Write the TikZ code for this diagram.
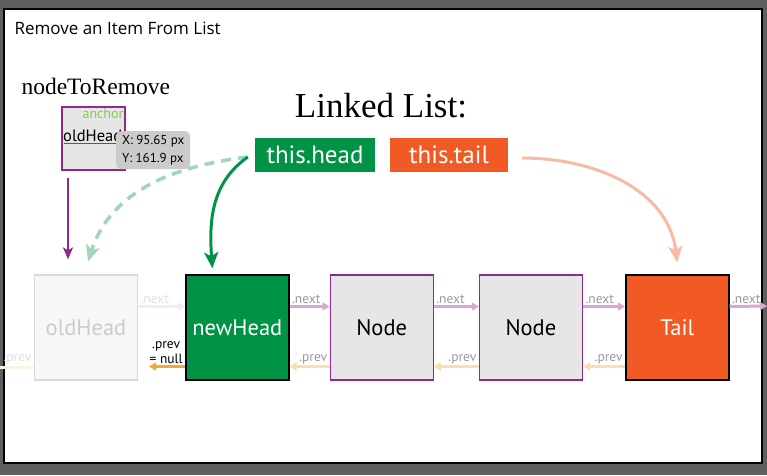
\documentclass[tikz,border=0pt]{standalone}
\usepackage{fontspec}
\setmainfont{Liberation Serif}
\newfontfamily\labelfont{PT Sans}
\newfontfamily\uifont{Open Sans}
\definecolor{framegray}{HTML}{5F5F5F}
\definecolor{listgreen}{HTML}{009245}
\definecolor{listorange}{HTML}{F15A24}
\definecolor{nodepurple}{HTML}{92278F}
\definecolor{nodegray}{HTML}{E6E6E6}
\definecolor{nextpurple}{HTML}{D9A7D5}
\definecolor{prevorange}{HTML}{FDDCB0}
\definecolor{nullorange}{HTML}{F7A833}
\definecolor{dashgreen}{HTML}{9ED7B9}
\definecolor{salmon}{HTML}{F7BBA4}
\definecolor{labelgray}{HTML}{9A9A9A}
\definecolor{anchorgreen}{HTML}{7ED34B}
\definecolor{tipgray}{HTML}{CBCBCB}
\usetikzlibrary{arrows.meta, positioning}

\begin{document}
\begin{tikzpicture}[x=1pt, y=-1pt,
    listnode/.style={rectangle, minimum width=103pt, minimum height=105pt,
                     inner sep=0pt, font=\labelfont\fontsize{22.5}{26}\selectfont},
    plainnode/.style={listnode, draw=nodepurple, fill=nodegray, line width=1.2pt},
    ptr/.style={rectangle, minimum height=34pt, inner sep=0pt, text=white,
                font=\labelfont\fontsize{25}{28}\selectfont},
    nextarr/.style={-{Triangle[length=7pt,width=8pt]}, line width=3pt, draw=nextpurple},
    prevarr/.style={-{Triangle[length=7pt,width=8pt]}, line width=3pt, draw=prevorange},
    lbl/.style={font=\labelfont\fontsize{13.5}{14}\selectfont, text=labelgray, inner sep=1pt},
    bigarr/.style={-{Stealth[length=16pt,width=14pt,inset=4pt]}, line width=3pt}
  ]
  \useasboundingbox (0,0) rectangle (767,475);
  \fill[framegray] (0,0) rectangle (767,475);
  \draw[fill=white, line width=1.5pt] (4,9) rectangle (762,463);

  % header texts
  \node[anchor=west, font=\uifont\fontsize{17}{19}\selectfont] (title) at (11,28)
    {Remove an Item From List};
  \node[anchor=west, font=\fontsize{23.5}{26}\selectfont] (removeLabel) at (18,86)
    {nodeToRemove};
  \node[font=\fontsize{35}{38}\selectfont] (listTitle) at (381,106) {Linked List:};

  % node to remove, with the anchor and tooltip
  \node[rectangle, draw=nodepurple, fill=nodegray, line width=1.2pt,
        minimum width=63pt, minimum height=63pt] (remove) at (93.5,138.5) {};
  \node[anchor=north east, text=anchorgreen, inner sep=2pt,
        font=\labelfont\fontsize{14}{15}\selectfont] (anchorText) at (remove.north east) {anchor};
  \node[anchor=base west, inner sep=0pt,
        font=\labelfont\fontsize{16.5}{18}\selectfont] (removeText) at (63,141) {oldHead};
  \draw[teal, line width=0.8pt] (64,143.5) -- (120,143.5);
  \node[anchor=north west, fill=tipgray, rounded corners=5pt, align=left,
        minimum width=74pt, minimum height=38pt, inner sep=0pt,
        font=\labelfont\fontsize{13}{18}\selectfont] (tooltip) at (116,131)
    {X: 95.65 px\\Y: 161.9 px};

  % pointers
  \node[ptr, fill=listgreen, minimum width=120pt] (thisHead) at (315,155) {this.head};
  \node[ptr, fill=listorange, minimum width=118pt] (thisTail) at (449,155) {this.tail};

  % the list
  \node[listnode, draw=black!15, fill=black!3, text=black!20, line width=1.2pt]
    (oldHead) at (86,327.5) {oldHead};
  \node[listnode, right=47pt of oldHead, fill=listgreen, draw=black, line width=1.5pt,
        text=white] (newHead) {newHead};
  \node[plainnode, right=40pt of newHead] (nodeA) {Node};
  \node[plainnode, right=45pt of nodeA] (nodeB) {Node};
  \node[listnode, right=42pt of nodeB, fill=listorange, draw=black, line width=1.5pt,
        text=white] (tailNode) {Tail};
  \coordinate (rightEnd) at (767,306);
  \coordinate (leftEnd) at (0,367);

  % next links
  \draw[nextarr, draw=nextpurple!25] ([yshift=21pt]oldHead.east) -- ([yshift=21pt]newHead.west)
    node[lbl, pos=0, anchor=south west, text=black!12] {.next};
  \draw[nextarr] ([yshift=21pt]newHead.east) -- ([yshift=21pt]nodeA.west)
    node[lbl, pos=0, anchor=south west] {.next};
  \draw[nextarr] ([yshift=21pt]nodeA.east) -- ([yshift=21pt]nodeB.west)
    node[lbl, pos=0, anchor=south west] {.next};
  \draw[nextarr] ([yshift=21pt]nodeB.east) -- ([yshift=21pt]tailNode.west)
    node[lbl, pos=0, anchor=south west] {.next};
  \draw[nextarr] ([yshift=21pt]tailNode.east) -- (rightEnd)
    node[lbl, pos=0, anchor=south west] {.next};

  % prev links
  \draw[prevarr, draw=prevorange!35, -] (oldHead.west |- leftEnd) -- (leftEnd)
    node[lbl, pos=0, anchor=south east, text=black!12] {.prev};
  \draw[prevarr, draw=nullorange] ([yshift=-39pt]newHead.west) -- ([yshift=-39pt, xshift=-36pt]newHead.west)
    node[lbl, pos=0, anchor=south east, text=black, align=center,
         font=\labelfont\fontsize{13.5}{15}\selectfont] {.prev\\= null};
  \draw[prevarr] ([yshift=-39pt]nodeA.west) -- ([yshift=-39pt]newHead.east)
    node[lbl, pos=0, anchor=south east] {.prev};
  \draw[prevarr] ([yshift=-39pt]nodeB.west) -- ([yshift=-39pt]nodeA.east)
    node[lbl, pos=0, anchor=south east] {.prev};
  \draw[prevarr] ([yshift=-39pt]tailNode.west) -- ([yshift=-39pt]nodeB.east)
    node[lbl, pos=0, anchor=south east] {.prev};

  % pointer arrows
  \draw[bigarr, line width=2.5pt, nodepurple, -{Stealth[length=12pt,width=10pt,inset=3pt]}]
    ([xshift=-25.5pt, yshift=-7pt]remove.south) -- ([xshift=-18pt, yshift=15pt]oldHead.north);
  \draw[bigarr, dashgreen, line width=3.5pt, dash pattern=on 10pt off 7pt]
    ([xshift=-7pt, yshift=-2pt]thisHead.west) to[out=187, in=72] ([xshift=2pt, yshift=13pt]oldHead.north);
  \draw[bigarr, listgreen]
    ([xshift=-7pt, yshift=-2pt]thisHead.west) to[out=215, in=94] ([xshift=-25pt, yshift=6pt]newHead.north);
  \draw[bigarr, salmon]
    ([xshift=14pt, yshift=-3pt]thisTail.east) to[out=0, in=97] ([yshift=12pt]tailNode.north);
\end{tikzpicture}
\end{document}
